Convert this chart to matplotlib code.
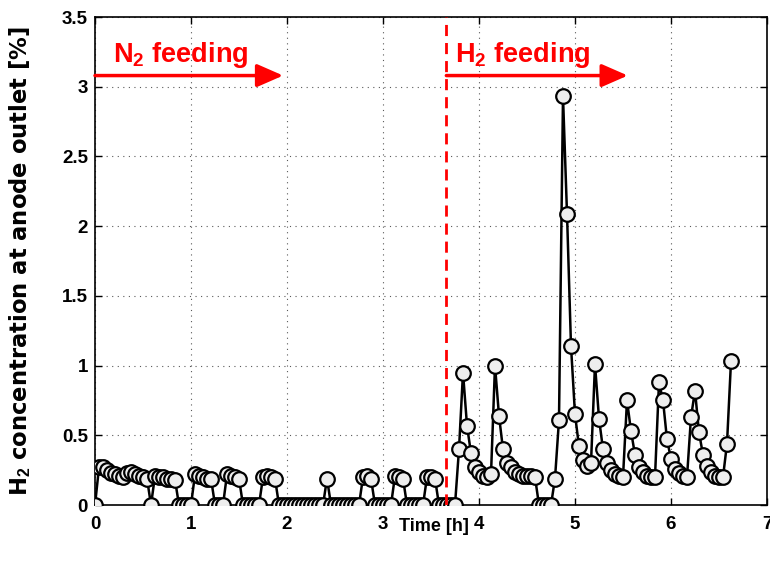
import numpy as np
import matplotlib
matplotlib.use("Agg")
import matplotlib.pyplot as plt

plt.rcParams['font.family'] = ['Liberation Sans', 'DejaVu Sans']
plt.rcParams['font.weight'] = 'bold'
plt.rcParams['mathtext.fontset'] = 'custom'
plt.rcParams['mathtext.rm'] = 'Liberation Sans:bold'
plt.rcParams['mathtext.bf'] = 'Liberation Sans:bold'

# logger sample interval [min]
sample_min = 2.5

# H2 concentration at anode outlet [%], one value per sample
h2_conc = [
    0, 0.27, 0.27, 0.25, 0.23, 0.22, 0.21, 0.20, 0.23, 0.24,
    0.22, 0.21, 0.20, 0.19, 0, 0.21, 0.20, 0.20, 0.19, 0.19,
    0.18, 0, 0, 0, 0, 0.22, 0.21, 0.20, 0.19, 0.19,
    0, 0, 0, 0.22, 0.21, 0.20, 0.19, 0, 0, 0,
    0, 0, 0.20, 0.21, 0.20, 0.19, 0, 0, 0, 0,
    0, 0, 0, 0, 0, 0, 0, 0, 0.19, 0,
    0, 0, 0, 0, 0, 0, 0, 0.20, 0.21, 0.19,
    0, 0, 0, 0, 0, 0.21, 0.20, 0.19, 0, 0,
    0, 0, 0, 0.20, 0.20, 0.19, 0, 0, 0, 0,
    0, 0.40, 0.95, 0.57, 0.37, 0.27, 0.24, 0.21, 0.20, 0.22,
    1.00, 0.64, 0.40, 0.30, 0.27, 0.24, 0.22, 0.21, 0.21, 0.21,
    0.20, 0, 0, 0, 0, 0.19, 0.61, 2.93, 2.09, 1.14,
    0.65, 0.42, 0.32, 0.28, 0.30, 1.01, 0.62, 0.40, 0.30, 0.25,
    0.22, 0.21, 0.20, 0.75, 0.53, 0.36, 0.27, 0.24, 0.21, 0.20,
    0.20, 0.88, 0.75, 0.47, 0.33, 0.26, 0.23, 0.21, 0.20, 0.63,
    0.82, 0.52, 0.36, 0.28, 0.24, 0.21, 0.20, 0.20, 0.44, 1.03,
]

switch_time = 3.66          # N2 -> H2 switch [h]
n2_arrow = (0.0, 1.96)
h2_arrow = (3.66, 5.55)
arrow_y = 3.08

xticks = [0, 1, 2, 3, 4, 5, 6, 7]
yticks = [0, 0.5, 1, 1.5, 2, 2.5, 3, 3.5]
ytick_labels = ['0', '0.5', '1', '1.5', '2', '2.5', '3', '3.5']

time_h = np.arange(len(h2_conc)) * sample_min / 60.0

fig = plt.figure(figsize=(7.7, 5.68), dpi=100)
ax = fig.add_axes([95 / 770, 1 - 505 / 568, 672 / 770, 488 / 568])

ax.plot(time_h, h2_conc, '-o', color='black', lw=1.8,
        markersize=10.5, markerfacecolor='#eeeeee', markeredgecolor='black',
        markeredgewidth=1.6, zorder=3)

ax.axvline(switch_time, color='red', lw=2, linestyle=(0, (4, 2.5)), zorder=4)

for x0, x1 in [n2_arrow, h2_arrow]:
    ax.annotate('', xy=(x1, arrow_y), xytext=(x0, arrow_y),
                arrowprops=dict(arrowstyle='-|>,head_length=0.8,head_width=0.35',
                                color='red', lw=2.5, mutation_scale=20,
                                shrinkA=0, shrinkB=0), zorder=5)

ax.text(0.19, 3.18, r'$\mathbf{N_2}$ feeding', color='red', fontsize=19.5,
        fontweight='bold', va='baseline', ha='left')
ax.text(3.75, 3.18, r'$\mathbf{H_2}$ feeding', color='red', fontsize=19.5,
        fontweight='bold', va='baseline', ha='left')

ax.set_xlim(0, 7)
ax.set_ylim(0, 3.5)
ax.set_xticks(xticks)
ax.set_yticks(yticks)
ax.set_yticklabels(ytick_labels)
ax.tick_params(direction='in', top=True, right=True, length=5, width=1,
               labelsize=13.5, pad=5)
ax.tick_params(axis='x', pad=8)
for lab in ax.get_xticklabels() + ax.get_yticklabels():
    lab.set_fontweight('bold')
ax.grid(True, color='0.35', linestyle=(0, (1, 4)), lw=0.8)
for sp in ax.spines.values():
    sp.set_linewidth(1.2)

ax.set_xlabel('Time [h]', fontsize=13, fontweight='bold')
ax.xaxis.set_label_coords(0.505, -0.026)
ax.set_ylabel(r'H$_\mathbf{2}$ concentration at anode outlet [%]', fontsize=16.3,
              fontweight='bold', family='DejaVu Sans')
ax.yaxis.set_label_coords(-0.092, 0.5)

fig.savefig('out.png', dpi=100)
